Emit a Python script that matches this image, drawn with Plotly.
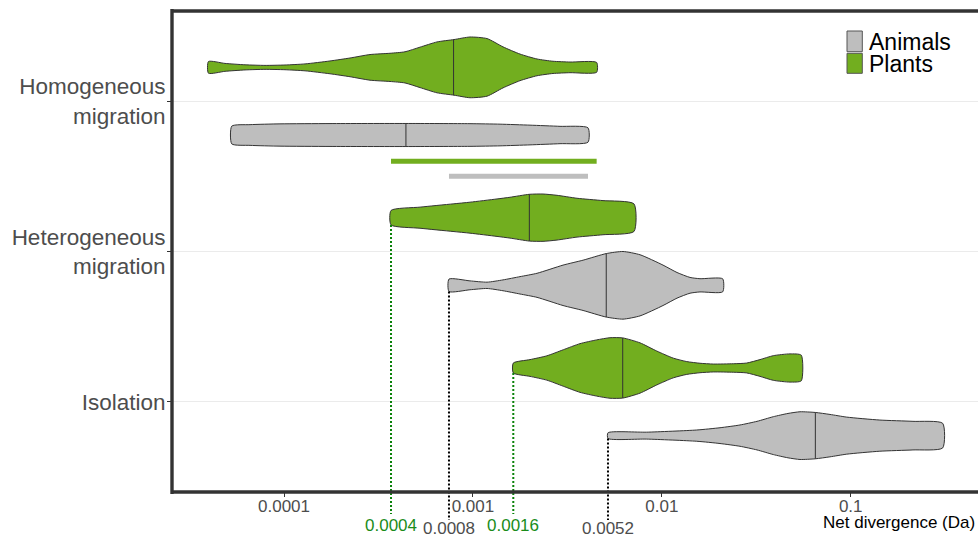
import numpy as np
import plotly.graph_objects as go

# ---------------- data ----------------
categories = ["Homogeneous<br>migration", "Heterogeneous<br>migration", "Isolation"]
category_pos = [3, 2, 1]
groups = ["Plants", "Animals"]

# violin profiles: net divergence (Da) and relative density (half width)
homog_plants_da = [3.98e-5, 4.87e-5, 6.22e-5, 7.93e-5, 1.012e-4, 1.292e-4, 1.752e-4, 2.236e-4,
                   2.853e-4, 3.64e-4, 4.37e-4, 5.25e-4, 6.46e-4, 7.94e-4, 9.65e-4, 1.188e-3,
                   1.443e-3, 1.775e-3, 2.185e-3, 2.655e-3, 3.266e-3, 4.52e-3]
homog_plants_dens = [5.9, 4.0, 2.6, 2.0, 2.4, 3.5, 6.5, 9.5, 13.0, 14.3, 15.8, 20.5, 25.8, 28.2,
                     30.8, 29.2, 20.8, 13.5, 8.5, 6.2, 5.4, 5.0]
homog_plants_median = 7.9e-4

homog_animals_da = [5.29e-5, 6.61e-5, 9.52e-5, 1.752e-4, 4.42e-4, 9.65e-4, 1.392e-3, 2.006e-3,
                    2.892e-3, 4.068e-3]
homog_animals_dens = [9.0, 10.5, 11.3, 11.6, 11.7, 11.5, 11.0, 10.0, 8.8, 7.3]
homog_animals_median = 4.42e-4

het_plants_da = [3.685e-4, 5.25e-4, 7.85e-4, 9.65e-4, 1.342e-3, 1.572e-3, 1.989e-3, 2.35e-3,
                 2.788e-3, 3.557e-3, 4.883e-3, 7.124e-3]
het_plants_dens = [7.3, 10.7, 14.0, 15.7, 19.0, 20.7, 23.7, 24.0, 22.7, 19.7, 17.3, 14.0]
het_plants_median = 1.99e-3

het_animals_da = [7.47e-4, 9.65e-4, 1.188e-3, 1.443e-3, 1.775e-3, 2.185e-3, 3.0e-3, 3.83e-3,
                  5.08e-3, 6.23e-3, 7.67e-3, 1.015e-2, 1.204e-2, 1.411e-2, 1.593e-2, 2.101e-2]
het_animals_dens = [6.3, 4.5, 3.2, 5.5, 8.8, 12.2, 20.5, 25.5, 32.2, 34.3, 31.0, 20.5, 13.0,
                    8.0, 6.7, 6.6]
het_animals_median = 5.08e-3

iso_plants_da = [1.636e-3, 2.006e-3, 2.459e-3, 3.01e-3, 3.69e-3, 4.52e-3, 5.32e-3, 6.21e-3,
                 7.67e-3, 9.40e-3, 1.150e-2, 1.355e-2, 1.593e-2, 1.874e-2, 2.391e-2, 2.814e-2,
                 3.311e-2, 3.894e-2, 4.772e-2, 5.476e-2]
iso_plants_dens = [5.0, 8.5, 12.3, 18.5, 24.7, 28.5, 30.7, 30.5, 25.5, 17.2, 10.0, 6.5, 4.8,
                   4.0, 4.3, 5.0, 8.5, 12.5, 14.3, 13.0]
iso_plants_median = 6.21e-3

iso_animals_da = [5.19e-3, 8.32e-3, 1.530e-2, 2.033e-2, 2.594e-2, 3.192e-2, 3.894e-2, 4.657e-2,
                  5.39e-2, 6.50e-2, 7.77e-2, 9.52e-2, 0.1427, 0.2137, 0.3069]
iso_animals_dens = [2.9, 3.5, 5.7, 8.0, 10.8, 14.5, 19.2, 22.5, 24.2, 23.5, 21.5, 18.8, 15.8,
                    14.5, 12.5]
iso_animals_median = 6.50e-2

x_tickvals = [1e-4, 1e-3, 1e-2, 1e-1]
x_ticktext = ["0.0001", "0.001", "0.01", "0.1"]
threshold_labels = ["0.0004", "0.0008", "0.0016", "0.0052"]

# ---------------- styling ----------------
FONT = "Liberation Sans, Arial, Helvetica, sans-serif"
GREEN = "#72AE1F"
GREY = "#BEBEBE"
OUTLINE = "#333333"
TXT = "#4D4D4D"
DOT_GREEN = "#0A820A"
LBL_GREEN = "#1A8C1A"
Y_MIN, Y_MAX = 0.4, 3.6
DODGE = 0.225
fill_col = {"Plants": GREEN, "Animals": GREY}
offset = {"Plants": DODGE, "Animals": -DODGE}

FIG_W, FIG_H = 978, 535
PLOT_L, PLOT_T, PLOT_B = 172, 11, 492          # plot area in pixels
W = FIG_W - PLOT_L
H = PLOT_B - PLOT_T

violins = [
    (category_pos[0], "Plants", homog_plants_da, homog_plants_dens, homog_plants_median),
    (category_pos[0], "Animals", homog_animals_da, homog_animals_dens, homog_animals_median),
    (category_pos[1], "Plants", het_plants_da, het_plants_dens, het_plants_median),
    (category_pos[1], "Animals", het_animals_da, het_animals_dens, het_animals_median),
    (category_pos[2], "Plants", iso_plants_da, iso_plants_dens, iso_plants_median),
    (category_pos[2], "Animals", iso_animals_da, iso_animals_dens, iso_animals_median),
]
max_dens = max(max(v[3]) for v in violins)
half_scale = DODGE / max_dens

fig = go.Figure()

# overlap range bars
fig.add_trace(go.Scatter(x=[min(het_plants_da), max(homog_plants_da)], y=[2.6, 2.6], mode="lines",
                         line=dict(color=GREEN, width=5), hoverinfo="skip", name="Plants range"))
fig.add_trace(go.Scatter(x=[min(het_animals_da), max(homog_animals_da)], y=[2.5, 2.5], mode="lines",
                         line=dict(color=GREY, width=5), hoverinfo="skip", name="Animals range"))

for cpos, grp, da, dens, med in violins:
    c = cpos + offset[grp]
    da = np.asarray(da, dtype=float)
    hw = np.asarray(dens, dtype=float) * half_scale
    xs = np.concatenate([da, da[::-1], da[:1]])
    ys = np.concatenate([c + hw, (c - hw)[::-1], [c + hw[0]]])
    fig.add_trace(go.Scatter(x=xs, y=ys, mode="lines", fill="toself", fillcolor=fill_col[grp],
                             line=dict(color=OUTLINE, width=1, shape="spline", smoothing=0.6),
                             name=grp, hoverinfo="skip"))
    hm = np.interp(np.log10(med), np.log10(da), hw)
    fig.add_trace(go.Scatter(x=[med, med], y=[c - hm, c + hm], mode="lines",
                             line=dict(color=OUTLINE, width=1), hoverinfo="skip", name=grp + " median"))


def py2paper(py):
    return (PLOT_B - py) / H


def px2paper(px):
    return (px - PLOT_L) / W


def y2paper(y):
    return (y - Y_MIN) / (Y_MAX - Y_MIN)


# dotted threshold lines (minimum of heterogeneous / isolation violins)
thresholds = [
    (violins[2], DOT_GREEN, LBL_GREEN, threshold_labels[0], 514, 525.5),
    (violins[3], "#000000", TXT, threshold_labels[1], 520, 528.0),
    (violins[4], DOT_GREEN, LBL_GREEN, threshold_labels[2], 514, 525.5),
    (violins[5], "#000000", TXT, threshold_labels[3], 520, 528.0),
]
shapes = []
annotations = []
for (cpos, grp, da, dens, med), lcol, tcol, lab, yend, ylab in thresholds:
    c = cpos + offset[grp]
    x0 = da[0]
    ystart = c - dens[0] * half_scale
    shapes.append(dict(type="line", xref="x", yref="paper", x0=x0, x1=x0,
                       y0=y2paper(ystart), y1=py2paper(yend),
                       line=dict(color=lcol, width=2, dash="2px,2px")))
    annotations.append(dict(xref="x", yref="paper", x=np.log10(x0), y=py2paper(ylab),
                            text=lab, showarrow=False, xanchor="center", yanchor="middle",
                            font=dict(size=17, color=tcol, family=FONT)))

# panel frame (right border lies just outside the picture)
frame_right = px2paper(979.9)
shapes += [
    dict(type="line", xref="paper", yref="paper", x0=0, x1=0, y0=-0.004, y1=1.004,
         line=dict(color=OUTLINE, width=3.4)),
    dict(type="line", xref="paper", yref="paper", x0=0, x1=frame_right, y0=1, y1=1,
         line=dict(color=OUTLINE, width=3.4)),
    dict(type="line", xref="paper", yref="paper", x0=0, x1=frame_right, y0=0, y1=0,
         line=dict(color=OUTLINE, width=3.4)),
    dict(type="line", xref="paper", yref="paper", x0=frame_right, x1=frame_right, y0=0, y1=1,
         line=dict(color=OUTLINE, width=3.4)),
]

# legend (manual)
legend_items = [("Animals", GREY, 31, 51.7), ("Plants", GREEN, 53.3, 73.3)]
for name, col, ytop, ybot in legend_items:
    shapes.append(dict(type="rect", xref="paper", yref="paper", x0=px2paper(847), x1=px2paper(862.3),
                       y0=py2paper(ybot), y1=py2paper(ytop), fillcolor=col,
                       line=dict(color="#555555", width=1)))
    annotations.append(dict(xref="paper", yref="paper", x=px2paper(867), y=py2paper((ytop + ybot) / 2 + 0.5),
                            text=name, showarrow=False, xanchor="left", yanchor="middle",
                            font=dict(size=23, color="#000000", family=FONT)))

# x axis title
annotations.append(dict(xref="paper", yref="paper", x=px2paper(977), y=py2paper(522.4),
                        text="Net divergence (Da)", showarrow=False, xanchor="right", yanchor="middle",
                        font=dict(size=17, color="#000000", family=FONT)))

fig.update_layout(
    width=FIG_W, height=FIG_H,
    margin=dict(l=PLOT_L, r=0, t=PLOT_T, b=FIG_H - PLOT_B),
    plot_bgcolor="white", paper_bgcolor="white",
    showlegend=False,
    font=dict(family=FONT),
    shapes=shapes, annotations=annotations,
    xaxis=dict(type="log", range=[-4.593, -0.326], tickvals=x_tickvals, ticktext=x_ticktext,
               showgrid=False, zeroline=False, showline=False, ticks="outside", ticklen=4,
               tickcolor=OUTLINE, tickwidth=1, ticklabelstandoff=-5,
               tickfont=dict(size=17, color=TXT, family=FONT)),
    yaxis=dict(range=[Y_MIN, Y_MAX], tickvals=category_pos, ticktext=categories,
               showgrid=True, gridcolor="#EBEBEB", gridwidth=1, zeroline=False, showline=False,
               ticks="outside", ticklen=4, tickcolor=OUTLINE, tickwidth=1, ticklabelstandoff=-3,
               tickfont=dict(size=22.5, color=TXT, family=FONT)),
)

# remove the default page margin so the figure sits at the window's top-left corner
fig.write_html("out.html",
               config={"displayModeBar": False, "staticPlot": True},
               post_script="document.body.style.margin='0';document.body.style.overflow='hidden';")
